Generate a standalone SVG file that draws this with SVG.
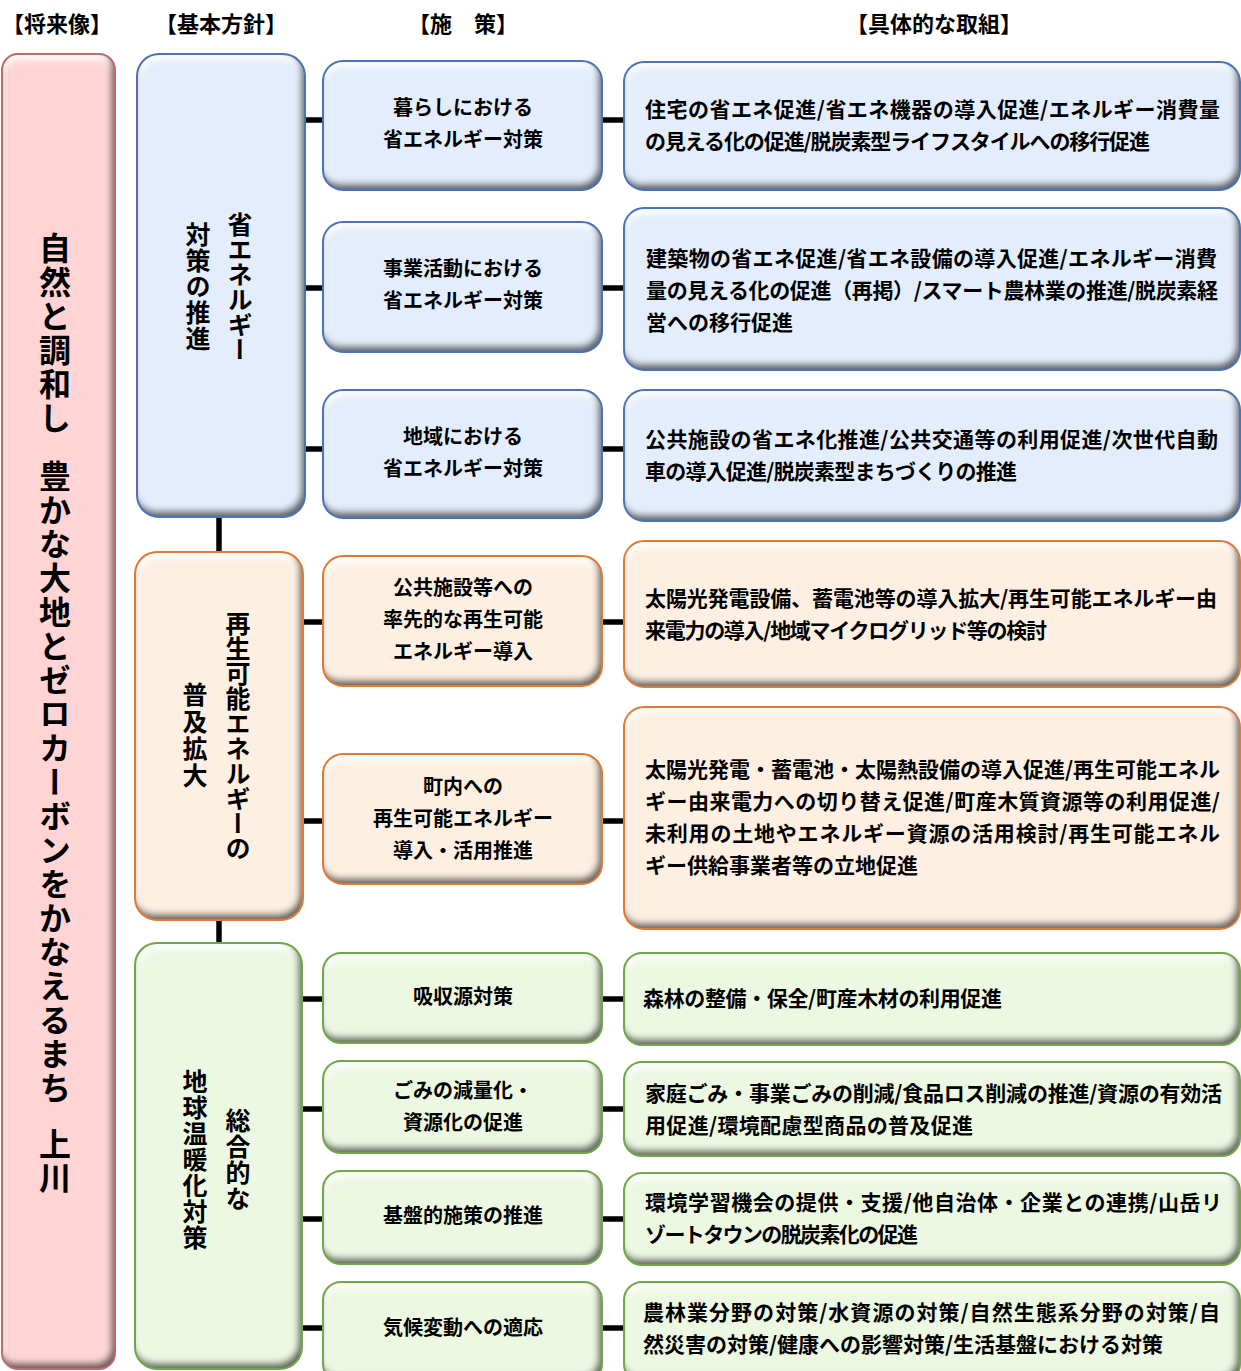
<svg xmlns="http://www.w3.org/2000/svg" width="1241" height="1371" viewBox="0 0 1241 1371">
<defs>
<filter id="bev" x="-25%" y="-25%" width="150%" height="150%" color-interpolation-filters="sRGB">
<feComponentTransfer in="SourceAlpha" result="inv"><feFuncA type="table" tableValues="1 0"/></feComponentTransfer>
<feGaussianBlur in="inv" stdDeviation="3.5" result="b"/>
<feOffset in="b" dx="-3" dy="-5" result="o1"/>
<feFlood flood-color="#000" flood-opacity="0.6" result="f1"/>
<feComposite in="f1" in2="o1" operator="in" result="s1"/>
<feComposite in="s1" in2="SourceAlpha" operator="in" result="sh"/>
<feOffset in="b" dx="1" dy="6" result="o2"/>
<feFlood flood-color="#fff" flood-opacity="0.95" result="f2"/>
<feComposite in="f2" in2="o2" operator="in" result="s2"/>
<feComposite in="s2" in2="SourceAlpha" operator="in" result="hl"/>
<feMerge><feMergeNode in="SourceGraphic"/><feMergeNode in="hl"/><feMergeNode in="sh"/></feMerge>
</filter>
</defs>
<style>
.t{font-family:"Noto Sans CJK JP","Noto Sans",sans-serif;font-weight:700;fill:#000}
.h{font-size:22px;text-anchor:middle;dominant-baseline:central}
.s{font-size:20px;text-anchor:middle;dominant-baseline:central;transform:translateY(-1.5px)}
.d{font-size:21px;dominant-baseline:central;transform:translateY(-1.5px)}
.v{writing-mode:vertical-rl;text-anchor:middle;font-size:25px;letter-spacing:1px}
.vp{writing-mode:vertical-rl;text-anchor:middle;font-size:32px;letter-spacing:2px}
.f{filter:url(#bev);stroke:none}
.o{fill:none;stroke-width:2}
.pink .f{fill:#FFD4D4}.pink .o{stroke:#C06A69}
.blue .f{fill:#E4EDFB}.blue .o{stroke:#4A74B8}
.orng .f{fill:#FDF0E2}.orng .o{stroke:#E07B34}
.grn .f{fill:#EDF8E3}.grn .o{stroke:#6FA845}
.con line{stroke:#000;stroke-width:5.5}
</style>
<rect width="1241" height="1371" fill="#fff"/>

<g id="headers" class="t h">
<text x="57" y="22">【将来像】</text>
<text x="221" y="22">【基本方針】</text>
<text x="463" y="22">【施　策】</text>
<text x="934" y="22">【具体的な取組】</text>
</g>

<g id="connectors" class="con">
<line x1="219" y1="512" x2="219" y2="558"/>
<line x1="219" y1="915" x2="219" y2="948"/>
<line x1="300" y1="120" x2="327" y2="120"/>
<line x1="300" y1="288" x2="327" y2="288"/>
<line x1="300" y1="449" x2="327" y2="449"/>
<line x1="298" y1="622" x2="327" y2="622"/>
<line x1="298" y1="821" x2="327" y2="821"/>
<line x1="298" y1="999" x2="327" y2="999"/>
<line x1="298" y1="1109" x2="327" y2="1109"/>
<line x1="298" y1="1219" x2="327" y2="1219"/>
<line x1="298" y1="1328" x2="327" y2="1328"/>
<line x1="598" y1="120" x2="628" y2="120"/>
<line x1="598" y1="288" x2="628" y2="288"/>
<line x1="598" y1="449" x2="628" y2="449"/>
<line x1="598" y1="622" x2="628" y2="622"/>
<line x1="598" y1="821" x2="628" y2="821"/>
<line x1="598" y1="999" x2="628" y2="999"/>
<line x1="598" y1="1109" x2="628" y2="1109"/>
<line x1="598" y1="1219" x2="628" y2="1219"/>
<line x1="598" y1="1328" x2="628" y2="1328"/>
</g>

<g id="vision" class="pink">
<rect class="f" x="2" y="54" width="113" height="1315" rx="16"/>
<rect class="o" x="2" y="54" width="113" height="1315" rx="16"/>
<text class="t vp" x="55" y="334">自然と調和し</text>
<text class="t vp" x="55" y="783">豊かな大地とゼロカーボンをかなえるまち</text>
<text class="t vp" x="55" y="1162">上川</text>
</g>

<g id="policy1" class="blue">
<rect class="f" x="137" y="54" width="168" height="463" rx="22"/>
<rect class="o" x="137" y="54" width="168" height="463" rx="22"/>
<text class="t v" x="240" y="287" style="letter-spacing:0">省エネルギー</text>
<text class="t v" x="198" y="287">対策の推進</text>
</g>
<g id="policy2" class="orng">
<rect class="f" x="135" y="552" width="168" height="368" rx="22"/>
<rect class="o" x="135" y="552" width="168" height="368" rx="22"/>
<text class="t v" x="238" y="736" style="letter-spacing:0">再生可能エネルギーの</text>
<text class="t v" x="195" y="736" style="letter-spacing:2px">普及拡大</text>
</g>
<g id="policy3" class="grn">
<rect class="f" x="135" y="943" width="167" height="426" rx="22"/>
<rect class="o" x="135" y="943" width="167" height="426" rx="22"/>
<text class="t v" x="238" y="1160">総合的な</text>
<text class="t v" x="195" y="1160">地球温暖化対策</text>
</g>

<g id="m1" class="blue">
<rect class="f" x="323" y="61" width="279" height="129" rx="20"/>
<rect class="o" x="323" y="61" width="279" height="129" rx="20"/>
<text class="t s" x="463" y="108">暮らしにおける</text>
<text class="t s" x="463" y="140">省エネルギー対策</text>
</g>
<g id="m2" class="blue">
<rect class="f" x="323" y="222" width="279" height="130" rx="20"/>
<rect class="o" x="323" y="222" width="279" height="130" rx="20"/>
<text class="t s" x="463" y="269">事業活動における</text>
<text class="t s" x="463" y="301">省エネルギー対策</text>
</g>
<g id="m3" class="blue">
<rect class="f" x="323" y="390" width="279" height="128" rx="20"/>
<rect class="o" x="323" y="390" width="279" height="128" rx="20"/>
<text class="t s" x="463" y="437">地域における</text>
<text class="t s" x="463" y="469">省エネルギー対策</text>
</g>
<g id="m4" class="orng">
<rect class="f" x="323" y="556" width="279" height="130" rx="20"/>
<rect class="o" x="323" y="556" width="279" height="130" rx="20"/>
<text class="t s" x="463" y="588">公共施設等への</text>
<text class="t s" x="463" y="620">率先的な再生可能</text>
<text class="t s" x="463" y="652">エネルギー導入</text>
</g>
<g id="m5" class="orng">
<rect class="f" x="323" y="754" width="279" height="130" rx="20"/>
<rect class="o" x="323" y="754" width="279" height="130" rx="20"/>
<text class="t s" x="463" y="787">町内への</text>
<text class="t s" x="463" y="819">再生可能エネルギー</text>
<text class="t s" x="463" y="851">導入・活用推進</text>
</g>
<g id="m6" class="grn">
<rect class="f" x="323" y="953" width="279" height="90" rx="18"/>
<rect class="o" x="323" y="953" width="279" height="90" rx="18"/>
<text class="t s" x="463" y="997">吸収源対策</text>
</g>
<g id="m7" class="grn">
<rect class="f" x="323" y="1061" width="279" height="92" rx="18"/>
<rect class="o" x="323" y="1061" width="279" height="92" rx="18"/>
<text class="t s" x="463" y="1091">ごみの減量化・</text>
<text class="t s" x="463" y="1123">資源化の促進</text>
</g>
<g id="m8" class="grn">
<rect class="f" x="323" y="1171" width="279" height="93" rx="18"/>
<rect class="o" x="323" y="1171" width="279" height="93" rx="18"/>
<text class="t s" x="463" y="1216">基盤的施策の推進</text>
</g>
<g id="m9" class="grn">
<rect class="f" x="323" y="1282" width="279" height="100" rx="18"/>
<rect class="o" x="323" y="1282" width="279" height="100" rx="18"/>
<text class="t s" x="463" y="1328">気候変動への適応</text>
</g>

<g id="a1" class="blue">
<rect class="f" x="624" y="62" width="616" height="128" rx="20"/>
<rect class="o" x="624" y="62" width="616" height="128" rx="20"/>
<text class="t d" x="645" y="109" textLength="575" lengthAdjust="spacing">住宅の省エネ促進/省エネ機器の導入促進/エネルギー消費量</text>
<text class="t d" x="645" y="141" textLength="505" lengthAdjust="spacing">の見える化の促進/脱炭素型ライフスタイルへの移行促進</text>
</g>
<g id="a2" class="blue">
<rect class="f" x="624" y="208" width="616" height="162" rx="20"/>
<rect class="o" x="624" y="208" width="616" height="162" rx="20"/>
<text class="t d" x="646" y="258" textLength="571" lengthAdjust="spacing">建築物の省エネ促進/省エネ設備の導入促進/エネルギー消費</text>
<text class="t d" x="646" y="290" textLength="572" lengthAdjust="spacing">量の見える化の促進（再掲）/スマート農林業の推進/脱炭素経</text>
<text class="t d" x="646" y="322">営への移行促進</text>
</g>
<g id="a3" class="blue">
<rect class="f" x="624" y="390" width="616" height="131" rx="20"/>
<rect class="o" x="624" y="390" width="616" height="131" rx="20"/>
<text class="t d" x="645" y="439" textLength="573" lengthAdjust="spacing">公共施設の省エネ化推進/公共交通等の利用促進/次世代自動</text>
<text class="t d" x="645" y="471" textLength="372" lengthAdjust="spacing">車の導入促進/脱炭素型まちづくりの推進</text>
</g>
<g id="a4" class="orng">
<rect class="f" x="624" y="541" width="616" height="146" rx="20"/>
<rect class="o" x="624" y="541" width="616" height="146" rx="20"/>
<text class="t d" x="645" y="598" textLength="572" lengthAdjust="spacing">太陽光発電設備、蓄電池等の導入拡大/再生可能エネルギー由</text>
<text class="t d" x="645" y="630" textLength="402" lengthAdjust="spacing">来電力の導入/地域マイクログリッド等の検討</text>
</g>
<g id="a5" class="orng">
<rect class="f" x="624" y="707" width="616" height="222" rx="20"/>
<rect class="o" x="624" y="707" width="616" height="222" rx="20"/>
<text class="t d" x="645" y="769" textLength="575" lengthAdjust="spacing">太陽光発電・蓄電池・太陽熱設備の導入促進/再生可能エネル</text>
<text class="t d" x="645" y="801" textLength="575" lengthAdjust="spacing">ギー由来電力への切り替え促進/町産木質資源等の利用促進/</text>
<text class="t d" x="645" y="833" textLength="575" lengthAdjust="spacing">未利用の土地やエネルギー資源の活用検討/再生可能エネル</text>
<text class="t d" x="645" y="865">ギー供給事業者等の立地促進</text>
</g>
<g id="a6" class="grn">
<rect class="f" x="624" y="953" width="616" height="92" rx="18"/>
<rect class="o" x="624" y="953" width="616" height="92" rx="18"/>
<text class="t d" x="643" y="998" textLength="359" lengthAdjust="spacing">森林の整備・保全/町産木材の利用促進</text>
</g>
<g id="a7" class="grn">
<rect class="f" x="624" y="1062" width="616" height="94" rx="18"/>
<rect class="o" x="624" y="1062" width="616" height="94" rx="18"/>
<text class="t d" x="645" y="1093" textLength="577" lengthAdjust="spacing">家庭ごみ・事業ごみの削減/食品ロス削減の推進/資源の有効活</text>
<text class="t d" x="645" y="1125" textLength="328" lengthAdjust="spacing">用促進/環境配慮型商品の普及促進</text>
</g>
<g id="a8" class="grn">
<rect class="f" x="624" y="1173" width="616" height="92" rx="18"/>
<rect class="o" x="624" y="1173" width="616" height="92" rx="18"/>
<text class="t d" x="645" y="1202" textLength="577" lengthAdjust="spacing">環境学習機会の提供・支援/他自治体・企業との連携/山岳リ</text>
<text class="t d" x="645" y="1234" textLength="273" lengthAdjust="spacing">ゾートタウンの脱炭素化の促進</text>
</g>
<g id="a9" class="grn">
<rect class="f" x="624" y="1282" width="616" height="100" rx="18"/>
<rect class="o" x="624" y="1282" width="616" height="100" rx="18"/>
<text class="t d" x="643" y="1312" textLength="577" lengthAdjust="spacing">農林業分野の対策/水資源の対策/自然生態系分野の対策/自</text>
<text class="t d" x="643" y="1344" textLength="520" lengthAdjust="spacing">然災害の対策/健康への影響対策/生活基盤における対策</text>
</g>
</svg>
